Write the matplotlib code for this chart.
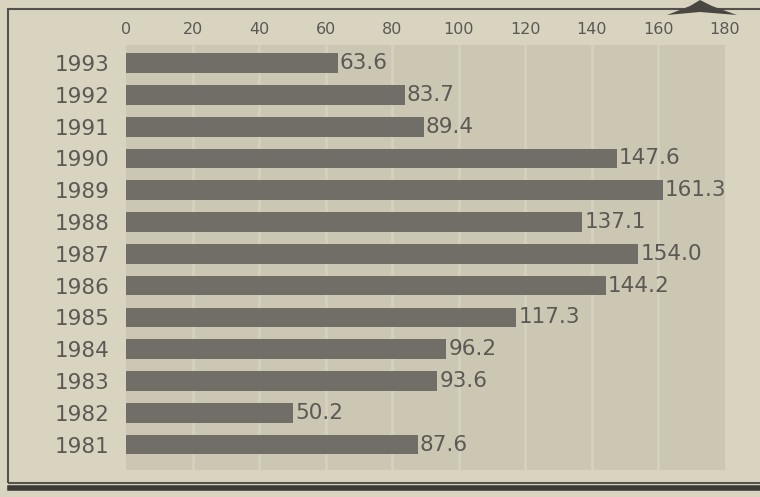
import matplotlib
matplotlib.use("Agg")
import matplotlib.pyplot as plt
from matplotlib.patches import Rectangle, Polygon
from matplotlib.lines import Line2D

years = ["1993", "1992", "1991", "1990", "1989", "1988", "1987",
         "1986", "1985", "1984", "1983", "1982", "1981"]
values = [63.6, 83.7, 89.4, 147.6, 161.3, 137.1, 154.0,
          144.2, 117.3, 96.2, 93.6, 50.2, 87.6]
xticks = [0, 20, 40, 60, 80, 100, 120, 140, 160, 180]

paper = "#d8d4c0"
plotbg = "#cbc7b3"
barcol = "#716d67"
textcol = "#5c5955"
gridcol = "#d5d1bf"

plt.rcParams['font.family'] = ['DejaVu Sans']

fig = plt.figure(figsize=(7.6, 4.97), dpi=100, facecolor=paper)

W, H = 760.0, 497.0
# outer frame
fig.add_artist(Rectangle((8/W, 1-483/H), 1.0, (483-9)/H,
                         transform=fig.transFigure, fill=False,
                         edgecolor="#55524d", linewidth=1.5))
fig.add_artist(Line2D([10/W, 1.0], [1-488/H, 1-488/H],
                      transform=fig.transFigure, color="#3d3b38", linewidth=4))
# logo fragment at top right
fig.add_artist(Polygon([(667/W, 1-15/H), (690/W, 1-6/H), (700/W, 1-0/H),
                        (712/W, 1-6/H), (737/W, 1-15/H), (700/W, 1-12/H)],
                       closed=True, transform=fig.transFigure,
                       facecolor="#4a4743", edgecolor="none"))

ax = fig.add_axes([126/W, 1-470/H, 599/W, 425/H])
ax.set_facecolor(plotbg)
n = len(years)
ypos = [n - 1 - i for i in range(n)]
ax.barh(ypos, values, height=0.62, color=barcol, zorder=3)
for x in xticks[1:-1]:
    ax.axvline(x, color=gridcol, linewidth=2.0, zorder=1)
for y, v in zip(ypos, values):
    ax.text(v + 0.6, y, f"{v:.1f}", va="center", ha="left",
            fontsize=15.5, color=textcol, zorder=4)
ax.set_xlim(0, 180)
ax.set_ylim(-0.8, n - 1 + 0.57)
ax.set_yticks(ypos)
ax.set_yticklabels(years, fontsize=15.5, color=textcol)
ax.set_xticks(xticks)
ax.set_xticklabels([str(t) for t in xticks], fontsize=11.5, color=textcol)
ax.xaxis.tick_top()
ax.tick_params(axis="both", length=0)
ax.tick_params(axis="y", pad=12)
ax.tick_params(axis="x", pad=6)
for s in ax.spines.values():
    s.set_visible(False)

fig.savefig("out.png", dpi=100, facecolor=paper)
